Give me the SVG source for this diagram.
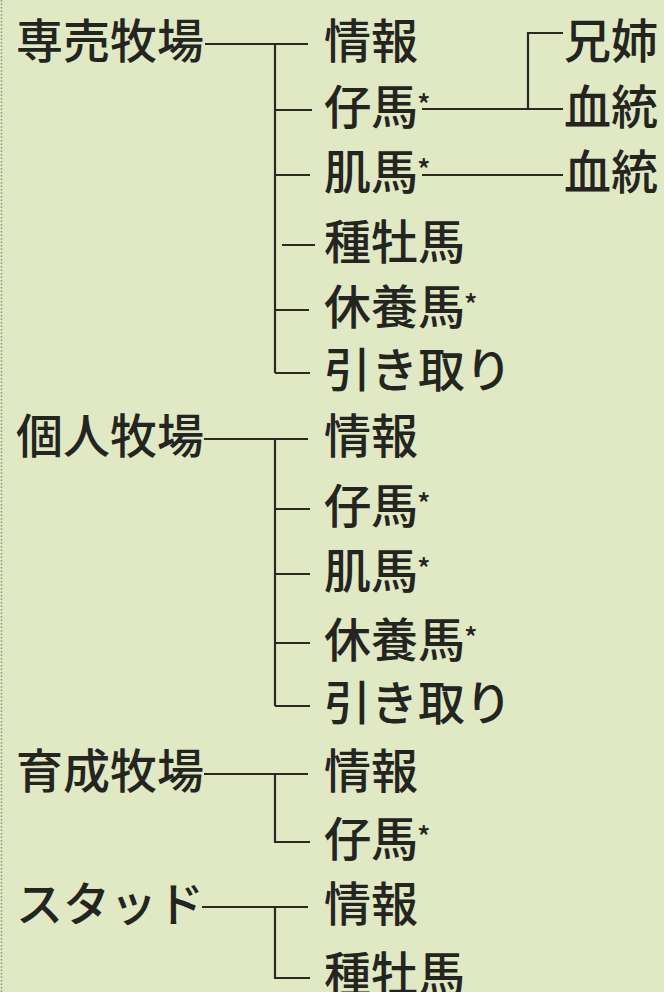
<svg xmlns="http://www.w3.org/2000/svg" width="664" height="992" viewBox="0 0 664 992">
  <style>
    .t { font-family: "Noto Sans CJK JP", "Noto Sans CJK SC", sans-serif; font-size: 47px; font-weight: 500; fill: #242420; }
    .ast { font-size: 28px; }
    .c { stroke: #2a2a22; stroke-width: 2.2; fill: none; stroke-linecap: butt; }
  </style>
  <rect x="0" y="0" width="664" height="992" fill="#e0e8c4"/>
  <line x1="1.5" y1="0" x2="1.5" y2="992" stroke="#8c8f80" stroke-width="1.5" stroke-dasharray="1.5 2"/>

  <g id="connectors">
    <!-- 専売牧場 -->
    <path class="c" d="M205 44 H308 M275 44 V373 M275 110 H312 M275 175 H310 M282 245 H315 M275 310 H309 M275 373 H310"/>
    <!-- 仔馬* -> 兄姉 / 血統 -->
    <path class="c" d="M422 109 H563 M528 109 V33 H563"/>
    <!-- 肌馬* -> 血統 -->
    <path class="c" d="M422 175 H563"/>
    <!-- 個人牧場 -->
    <path class="c" d="M204 439 H308 M275 439 V706 M275 509 H310 M275 574 H310 M275 643 H310 M275 706 H310"/>
    <!-- 育成牧場 -->
    <path class="c" d="M204 774 H308 M275 774 V842 H310"/>
    <!-- スタッド -->
    <path class="c" d="M202 907 H308 M275 907 V978 H310"/>
  </g>

  <g id="n-senbai"><text class="t" x="16" y="58">専売牧場</text></g>
  <g id="n-senbai-joho"><text class="t" x="324" y="58">情報</text></g>
  <g id="n-senbai-koma"><text class="t" x="324" y="124">仔馬<tspan class="ast" dx="-1" dy="-9">*</tspan></text></g>
  <g id="n-senbai-hadaum"><text class="t" x="324" y="189">肌馬<tspan class="ast" dx="-1" dy="-9">*</tspan></text></g>
  <g id="n-senbai-shubo"><text class="t" x="324" y="259">種牡馬</text></g>
  <g id="n-senbai-kyuyo"><text class="t" x="324" y="324">休養馬<tspan class="ast" dx="-1" dy="-9">*</tspan></text></g>
  <g id="n-senbai-hikitori"><text class="t" x="324" y="387">引き取り</text></g>
  <g id="n-kyodai"><text class="t" x="564" y="58">兄姉</text></g>
  <g id="n-ketto1"><text class="t" x="564" y="124">血統</text></g>
  <g id="n-ketto2"><text class="t" x="564" y="189">血統</text></g>

  <g id="n-kojin"><text class="t" x="16" y="453">個人牧場</text></g>
  <g id="n-kojin-joho"><text class="t" x="324" y="453">情報</text></g>
  <g id="n-kojin-koma"><text class="t" x="324" y="523">仔馬<tspan class="ast" dx="-1" dy="-9">*</tspan></text></g>
  <g id="n-kojin-hadauma"><text class="t" x="324" y="588">肌馬<tspan class="ast" dx="-1" dy="-9">*</tspan></text></g>
  <g id="n-kojin-kyuyo"><text class="t" x="324" y="657">休養馬<tspan class="ast" dx="-1" dy="-9">*</tspan></text></g>
  <g id="n-kojin-hikitori"><text class="t" x="324" y="720">引き取り</text></g>

  <g id="n-ikusei"><text class="t" x="16" y="788">育成牧場</text></g>
  <g id="n-ikusei-joho"><text class="t" x="324" y="788">情報</text></g>
  <g id="n-ikusei-koma"><text class="t" x="324" y="856">仔馬<tspan class="ast" dx="-1" dy="-9">*</tspan></text></g>

  <g id="n-stud"><text class="t" x="16" y="921">スタッド</text></g>
  <g id="n-stud-joho"><text class="t" x="324" y="921">情報</text></g>
  <g id="n-stud-shubo"><text class="t" x="324" y="991">種牡馬</text></g>
</svg>
